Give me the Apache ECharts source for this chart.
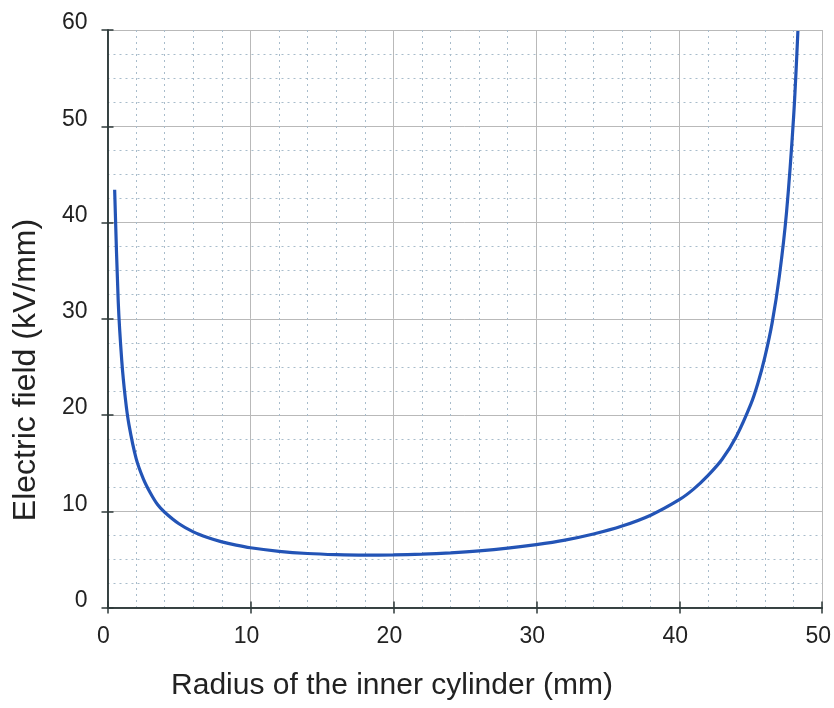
<!DOCTYPE html>
<html>
<head>
<meta charset="utf-8">
<script src="https://cdn.jsdelivr.net/npm/echarts@6/dist/echarts.min.js"></script>
<style>
html,body{margin:0;padding:0;background:#fff;}
#chart{width:834px;height:708px;}
</style>
</head>
<body>
<div id="chart"></div>
<script>
// Radius of the inner cylinder (mm)
const radius = [0.5, 0.75, 1, 1.25, 1.5, 2, 2.5, 3, 3.5, 4, 5, 6, 7, 8, 9, 10, 12, 14, 16, 18, 20, 22, 24, 26, 28, 30, 32, 34, 36, 38, 40, 41, 42, 43, 44, 45, 45.5, 46, 46.5, 47, 47.5, 48, 48.3];
// Electric field (kV/mm)
const field = [43.4, 31.8, 25.6, 21.7, 19.0, 15.5, 13.4, 11.9, 10.7, 9.9, 8.7, 7.86, 7.27, 6.82, 6.48, 6.21, 5.84, 5.61, 5.49, 5.44, 5.46, 5.54, 5.68, 5.88, 6.16, 6.53, 7.0, 7.63, 8.46, 9.59, 11.2, 12.3, 13.7, 15.4, 17.8, 21.1, 23.3, 26.1, 29.6, 34.4, 41.0, 51.0, 59.9];
const xTicks = [0, 10, 20, 30, 40, 50];
const yTicks = [0, 10, 20, 30, 40, 50, 60];
const xTitle = 'Radius of the inner cylinder (mm)';
const yTitle = 'Electric field (kV/mm)';

const seriesData = radius.map((r, i) => [r, field[i]]);
const frameColor = '#2e3a3a';
const font = '"Liberation Sans", Arial, sans-serif';

const chart = echarts.init(document.getElementById('chart'), null, {renderer: 'canvas'});
chart.setOption({
  animation: false,
  backgroundColor: '#fff',
  grid: {left: 107.5, right: 9.5, top: 30, bottom: 100.5, containLabel: false},
  xAxis: [{
    type: 'value', min: xTicks[0], max: xTicks[xTicks.length - 1], interval: 10,
    axisLine: {show: true, lineStyle: {color: frameColor, width: 1.5}},
    axisTick: {show: true, inside: true, length: 6, lineStyle: {color: frameColor, width: 1.5}},
    axisLabel: {fontSize: 23, color: '#222', fontFamily: font, margin: 18, padding: [0, 8, 0, 0]},
    splitLine: {show: true, lineStyle: {color: '#b9b9b9', width: 1}},
    minorTick: {show: false, splitNumber: 5},
    minorSplitLine: {show: true, lineStyle: {color: '#a8bccb', width: 1, type: [2, 4]}}
  }, {
    type: 'value', position: 'top', min: xTicks[0], max: xTicks[xTicks.length - 1], interval: 10,
    axisLine: {show: true, lineStyle: {color: frameColor, width: 1.5}},
    axisTick: {show: true, inside: true, length: 6, lineStyle: {color: frameColor, width: 1.5}},
    axisLabel: {show: false}, splitLine: {show: false}
  }],
  yAxis: [{
    type: 'value', min: yTicks[0], max: yTicks[yTicks.length - 1], interval: 10,
    axisLine: {show: true, lineStyle: {color: frameColor, width: 1.5}},
    axisTick: {show: true, inside: true, length: 6, lineStyle: {color: frameColor, width: 1.5}},
    axisLabel: {fontSize: 23, color: '#222', fontFamily: font, margin: 20, verticalAlign: 'bottom', lineHeight: 14},
    splitLine: {show: true, lineStyle: {color: '#b9b9b9', width: 1}},
    minorTick: {show: false, splitNumber: 4},
    minorSplitLine: {show: true, lineStyle: {color: '#a8bccb', width: 1, type: [2, 4]}}
  }, {
    type: 'value', position: 'right', min: yTicks[0], max: yTicks[yTicks.length - 1], interval: 10,
    axisLine: {show: true, lineStyle: {color: frameColor, width: 1.5}},
    axisTick: {show: true, inside: true, length: 6, lineStyle: {color: frameColor, width: 1.5}},
    axisLabel: {show: false}, splitLine: {show: false}
  }],
  series: [{
    type: 'line', data: seriesData, xAxisIndex: 0, yAxisIndex: 0,
    showSymbol: false, smooth: 0.3, clip: true,
    lineStyle: {color: '#2354b6', width: 3.2}
  }],
  graphic: [{
    type: 'text', x: 392, y: 686,
    style: {text: xTitle, font: '30px ' + font, fill: '#222', textAlign: 'center', textVerticalAlign: 'middle'}
  }, {
    type: 'text', x: 26, y: 370, rotation: Math.PI / 2,
    style: {text: yTitle, font: '32px ' + font, fill: '#222', textAlign: 'center', textVerticalAlign: 'middle'}
  }]
});
</script>
</body>
</html>
